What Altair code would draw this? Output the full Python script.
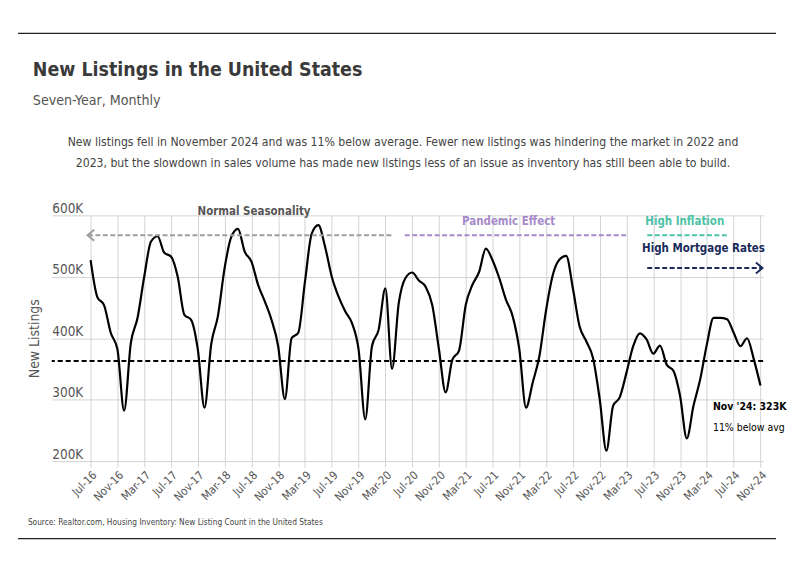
import altair as alt
import pandas as pd

FONT = "DejaVu Sans Condensed, DejaVu Sans, sans-serif"

# ---------------- data ----------------
months = pd.date_range("2016-07-01", "2024-11-01", freq="MS").strftime("%b-%y").tolist()
tick_labels = months[::4]
new_listings_k = [
    527, 467, 454, 409, 382, 282, 392, 433, 500, 557, 566, 539,   # Jul-16 .. Jun-17
    533, 500, 438, 430, 382, 287, 390, 436, 514, 565, 578, 541,   # Jul-17 .. Jun-18
    525, 487, 460, 430, 387, 301, 400, 409, 492, 570, 584, 549,   # Jul-18 .. Jun-19
    500, 468, 444, 425, 382, 268, 387, 414, 481, 350, 457, 498,   # Jul-19 .. Jun-20
    507, 494, 484, 454, 382, 312, 365, 380, 454, 487, 508, 546,   # Jul-20 .. Jun-21
    527, 498, 463, 436, 382, 287, 328, 371, 446, 503, 528, 534,   # Jul-21 .. Jun-22
    481, 419, 395, 368, 301, 217, 290, 304, 344, 387, 408, 398,   # Jul-22 .. Jun-23
    375, 388, 357, 347, 306, 237, 290, 333, 390, 433, 433, 431,   # Jul-23 .. Jun-24
    409, 387, 400, 366, 323,                                      # Jul-24 .. Nov-24
]
average_k = 363

# annotation segments (month index start/end, level in K)
seg_names = ["Normal Seasonality", "Pandemic Effect", "High Inflation", "High Mortgage Rates"]
seg_start = [44.9, 46.9, 83.1, 83.1]
seg_end = [-0.45, 80.1, 95.2, 100.3]
seg_level = [567.6, 567.6, 567.6, 514.2]
seg_color = ["#9e9e9e", "#a68ac9", "#4cc2a6", "#1b2b5b"]

label_x = [24.4, 62.4, 88.7, 91.5]
label_level = [606.0, 588.7, 588.7, 545.0]
label_color = ["#555555", "#a68ac9", "#4cc2a6", "#1b2b5b"]

title_text = "New Listings in the United States"
subtitle_text = "Seven-Year, Monthly"
desc_line1 = "New listings fell in November 2024 and was 11% below average. Fewer new listings was hindering the market in 2022 and"
desc_line2 = "2023, but the slowdown in sales volume has made new listings less of an issue as inventory has still been able to build."
source_text = "Source:  Realtor.com, Housing Inventory: New Listing Count in the United States"
end_label = "Nov '24: 323K"
end_sub = "11% below avg"

# ---------------- tables ----------------
df = pd.DataFrame({"i": list(range(len(months))), "month": months,
                   "value": [v * 1000 for v in new_listings_k]})
seg_df = pd.DataFrame({"name": seg_names, "i": seg_start, "i2": seg_end,
                       "value": [v * 1000 for v in seg_level], "color": seg_color})
lab_df = pd.DataFrame({"name": seg_names, "i": label_x,
                       "value": [v * 1000 for v in label_level], "color": label_color})

W, H = 715, 247
xscale = alt.Scale(domain=[-5.8, 100.4], nice=False, zero=False)
yscale = alt.Scale(domain=[200000, 600000], nice=False, zero=False)

labels_js = "[" + ",".join("'" + t + "'" for t in tick_labels) + "]"

x_axis = alt.Axis(values=list(range(0, len(months), 4)), tickCount=60,
                  labelExpr=labels_js + "[round(datum.value/4)]",
                  labelAngle=-45, labelAlign="right", labelBaseline="top",
                  labelFont=FONT, labelFontSize=11.5, labelColor="#555555",
                  labelPadding=2, labelFlush=False, labelOverlap=False,
                  grid=True, gridColor="#d3d3d3", gridWidth=1,
                  tickColor="#d3d3d3", tickSize=6, domain=False, title=None)
y_axis = alt.Axis(values=[200000, 300000, 400000, 500000, 600000], tickCount=20,
                  labelExpr="(datum.value/1000) + 'K'",
                  labelAlign="left", labelBaseline="bottom", labelPadding=0,
                  labelFont=FONT, labelFontSize=13.5, labelColor="#555555",
                  labelFlush=False, labelOverlap=False,
                  ticks=False, domain=False, grid=True, gridColor="#d3d3d3",
                  title="New Listings", titleFont=FONT, titleFontSize=14,
                  titleColor="#555555", titleFontWeight="normal",
                  titleX=-17, titleY=H / 2, titleAngle=-90,
                  titleAlign="center", titleBaseline="middle")

X = lambda f: alt.X(f, scale=xscale)
Y = lambda f: alt.Y(f, scale=yscale)

line = alt.Chart(df).mark_line(color="black", strokeWidth=2.2, interpolate="monotone").encode(
    x=alt.X("i:Q", scale=xscale, axis=x_axis),
    y=alt.Y("value:Q", scale=yscale, axis=y_axis),
)

avg = alt.Chart(pd.DataFrame({"value": [average_k * 1000]})).mark_rule(
    color="black", strokeWidth=2, strokeDash=[5, 3]).encode(y=Y("value:Q"))

segs = alt.Chart(seg_df).mark_rule(strokeWidth=2, strokeDash=[5, 2.5]).encode(
    x=X("i:Q"), x2="i2:Q", y=Y("value:Q"),
    color=alt.Color("color:N", scale=None),
)

left_head = alt.Chart(seg_df.iloc[[0]]).mark_point(
    shape="M0.6,-1L-0.6,0L0.6,1", filled=False, strokeWidth=2, size=121, opacity=1).encode(
    x=X("i2:Q"), y=Y("value:Q"), color=alt.Color("color:N", scale=None),
    xOffset=alt.value(3.3),
)
right_head = alt.Chart(seg_df.iloc[[3]]).mark_point(
    shape="M-0.6,-1L0.6,0L-0.6,1", filled=False, strokeWidth=2, size=121, opacity=1).encode(
    x=X("i2:Q"), y=Y("value:Q"), color=alt.Color("color:N", scale=None),
    xOffset=alt.value(-3.3),
)

seg_labels = alt.Chart(lab_df).mark_text(font=FONT, fontSize=11.5, fontWeight="bold",
                                         align="center", baseline="middle").encode(
    x=X("i:Q"), y=Y("value:Q"), text="name:N",
    color=alt.Color("color:N", scale=None),
)

end_df = pd.DataFrame({"i": [92.9], "value": [287700], "t": [end_label]})
end_df2 = pd.DataFrame({"i": [92.9], "value": [254000], "t": [end_sub]})
end_lab = alt.Chart(end_df).mark_text(font=FONT, fontSize=10.5, fontWeight="bold", color="black",
                                      align="left", baseline="middle").encode(
    x=X("i:Q"), y=Y("value:Q"), text="t:N")
end_lab2 = alt.Chart(end_df2).mark_text(font=FONT, fontSize=10.5, color="black",
                                        align="left", baseline="middle").encode(
    x=X("i:Q"), y=Y("value:Q"), text="t:N")

# header / footer text (pixel positions relative to plot origin)
def ptext(txt, px, py, **kw):
    return alt.Chart(pd.DataFrame({"t": [txt]})).mark_text(font=FONT, baseline="alphabetic", **kw).encode(
        x=alt.value(px), y=alt.value(py), text="t:N")

title = ptext(title_text, -19, -140, fontSize=19.5, fontWeight="bold", color="#3a3a3a", align="left")
subtitle = ptext(subtitle_text, -19, -111, fontSize=14.2, color="#555555", align="left")
desc1 = ptext(desc_line1, 353, -70, fontSize=12.2, color="#444444", align="center")
desc2 = ptext(desc_line2, 353, -49, fontSize=12.2, color="#444444", align="center")
source = ptext(source_text, -24, 311, fontSize=8.3, color="#444444", align="left")

def prule(py):
    return alt.Chart(pd.DataFrame({"a": [0]})).mark_rule(color="#222222", strokeWidth=1.3).encode(
        x=alt.value(-34), x2=alt.value(728), y=alt.value(py))

chart = alt.layer(
    line, avg, segs, left_head, right_head, seg_labels, end_lab, end_lab2,
    title, subtitle, desc1, desc2, source, prule(-183), prule(325),
).properties(
    width=W, height=H,
    autosize=alt.AutoSizeParams(type="none"),
    padding={"left": 44, "top": 207, "right": 28, "bottom": 100},
).configure_view(stroke=None)

chart.save("out.html", embed_options={"renderer": "svg", "actions": False})
